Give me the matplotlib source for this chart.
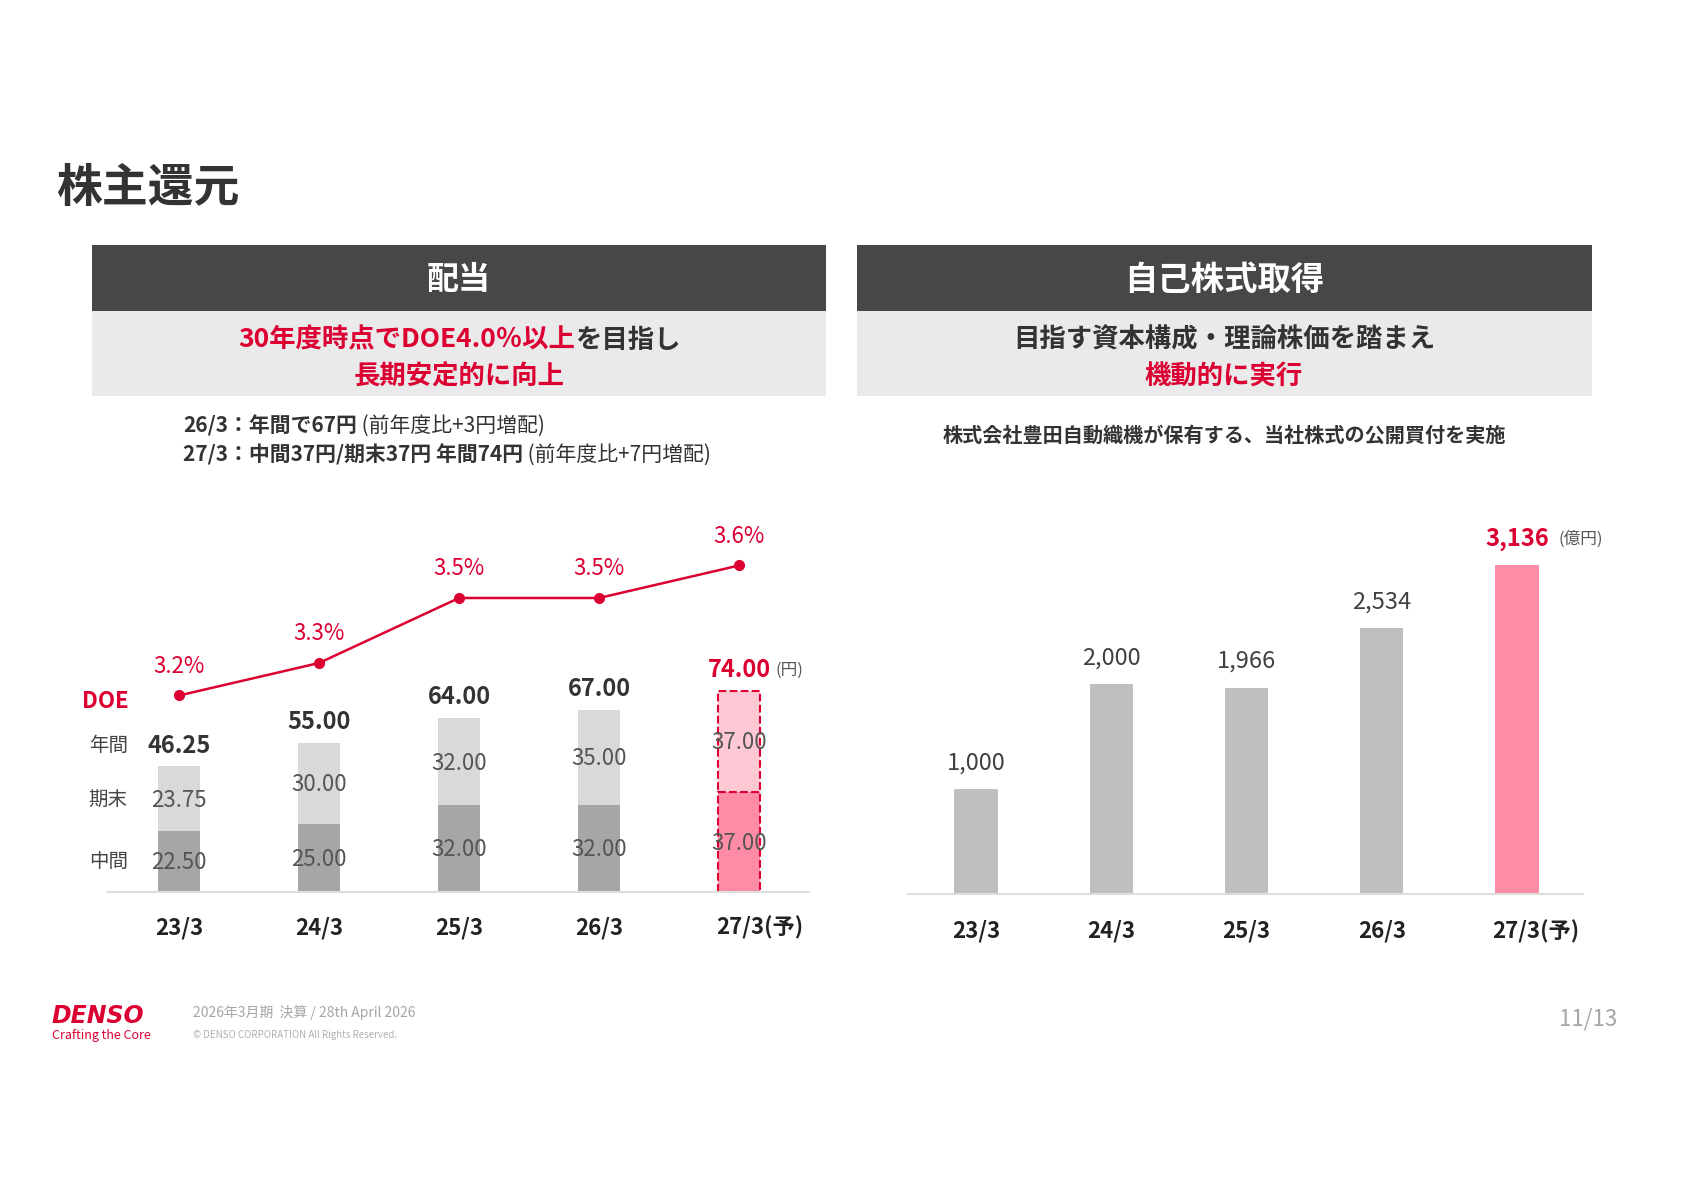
import matplotlib
matplotlib.use('Agg')
import matplotlib.pyplot as plt
from matplotlib.patches import Rectangle

plt.rcParams['font.family'] = ['Noto Sans CJK JP', 'DejaVu Sans']

W, H = 1683, 1190

years = ['23/3', '24/3', '25/3', '26/3', '27/3']
interim = [22.50, 25.00, 32.00, 32.00, 37.00]
year_end = [23.75, 30.00, 32.00, 35.00, 37.00]
annual = [46.25, 55.00, 64.00, 67.00, 74.00]
doe = [3.2, 3.3, 3.5, 3.5, 3.6]
buyback = [1000, 2000, 1966, 2534, 3136]

RED = '#DC0032'
DARK = '#333333'
PINK = '#FF8CA6'
LPINK = '#FFC8D5'

fig = plt.figure(figsize=(W / 100, H / 100), dpi=100)
renderer = fig.canvas.get_renderer()


def fx(x):
    return x / W


def fy(y):
    return 1 - y / H


def box(x0, y0, x1, y1, color):
    fig.add_artist(Rectangle((fx(x0), fy(y1)), (x1 - x0) / W, (y1 - y0) / H,
                             transform=fig.transFigure, color=color, lw=0))


def txt(x, y, s, **kw):
    kw.setdefault('va', 'center')
    return fig.text(fx(x), fy(y), s, **kw)


def runs(x, y, parts, size, ha='left'):
    # text made of pieces with different colour / weight
    arts = [fig.text(0, fy(y), s, fontsize=size, color=c, weight=w, va='center')
            for s, c, w in parts]
    widths = [a.get_window_extent(renderer).width for a in arts]
    start = x - sum(widths) / 2 if ha == 'center' else x
    for a, wd in zip(arts, widths):
        a.set_x(fx(start))
        start += wd


# ---- page header ----
txt(56, 189, '株主還元', fontsize=33, weight='bold', color=DARK)

box(92, 245, 826, 311, '#474747')
box(92, 311, 826, 396, '#EAEAEA')
box(857, 245, 1592, 311, '#474747')
box(857, 311, 1592, 396, '#EAEAEA')

txt(459, 280, '配当', fontsize=23, weight='bold', color='white', ha='center')
txt(1224, 280, '自己株式取得', fontsize=24, weight='bold', color='white', ha='center')

runs(459, 340, [('30年度時点でDOE4.0％以上', RED, 'bold'), ('を目指し', DARK, 'bold')],
     19, ha='center')
txt(459, 377, '長期安定的に向上', fontsize=19, weight='bold', color=RED, ha='center')
txt(1224, 340, '目指す資本構成・理論株価を踏まえ', fontsize=19, weight='bold',
    color=DARK, ha='center')
txt(1224, 377, '機動的に実行', fontsize=19, weight='bold', color=RED, ha='center')

runs(183, 426, [('26/3：年間で67円', DARK, 'bold'), (' (前年度比+3円増配)', DARK, 'normal')], 15)
runs(183, 455, [('27/3：中間37円/期末37円 年間74円', DARK, 'bold'),
                (' (前年度比+7円増配)', DARK, 'normal')], 15)
txt(1224, 435, '株式会社豊田自動織機が保有する、当社株式の公開買付を実施',
    fontsize=14.5, weight='bold', color=DARK, ha='center')

# ---- left chart: dividends ----
xs = list(range(len(years)))
ax = fig.add_axes([fx(107), fy(892), (809 - 107) / W, (892 - 480) / H])
ax.set_xlim(-72 / 140, 4 + 70 / 140)
ax.set_ylim(0, 412 / 2.715)
bw = 0.307
ax.bar(xs[:4], interim[:4], width=bw, color='#A6A6A6', lw=0)
ax.bar(xs[:4], year_end[:4], width=bw, bottom=interim[:4], color='#D9D9D9', lw=0)
ax.bar(xs[4], interim[4], width=bw, color=PINK, edgecolor=RED, ls='--', lw=1.5)
ax.bar(xs[4], year_end[4], width=bw, bottom=interim[4], color=LPINK, edgecolor=RED,
       ls='--', lw=1.5)

for sp in ['top', 'left', 'right']:
    ax.spines[sp].set_visible(False)
ax.spines['bottom'].set_color('#DDDDDD')
ax.spines['bottom'].set_linewidth(1.5)
ax.set_xticks([])
ax.set_yticks([])

for i in xs:
    c = RED if i == 4 else DARK
    ax.annotate(f'{annual[i]:.2f}', (i, annual[i]), xytext=(0, 15), textcoords='offset points',
                ha='center', va='center', fontsize=17, weight='bold', color=c)
    ax.annotate(f'{interim[i]:.2f}', (i, interim[i] / 2), xytext=(0, -1),
                textcoords='offset points', ha='center', va='center',
                fontsize=16, color='#555555')
    ax.annotate(f'{year_end[i]:.2f}', (i, interim[i] + year_end[i] / 2), xytext=(0, -1),
                textcoords='offset points', ha='center',
                va='center', fontsize=16, color='#555555')
    lab = years[i] + ('(予)' if i == 4 else '')
    ax.annotate(lab, (i + (0.15 if i == 4 else 0), 0), xytext=(0, -26),
                textcoords='offset points', ha='center', va='center', fontsize=16,
                weight='bold', color='#222222', annotation_clip=False)

ax.annotate('(円)', (4, annual[4]), xytext=(26, 15), textcoords='offset points',
            ha='left', va='center', fontsize=12, color='#555555')

ax.annotate('年間', (0, annual[0]), xytext=(-51, 15), textcoords='offset points',
            ha='center', va='center', fontsize=14, color='#444444', annotation_clip=False)
ax.annotate('期末', (0, interim[0] + year_end[0] / 2), xytext=(-51, -1),
            textcoords='offset points', ha='center', va='center', fontsize=14,
            color='#444444', annotation_clip=False)
ax.annotate('中間', (0, interim[0] / 2), xytext=(-51, 0), textcoords='offset points',
            ha='center', va='center', fontsize=14, color='#444444', annotation_clip=False)

ax2 = ax.twinx()
lo = 3.2 - 196.5 / 325
ax2.set_ylim(lo, lo + 412 / 325)
ax2.set_axis_off()
ax2.plot(xs, doe, color=RED, lw=1.8, marker='o', ms=7)
for i in xs:
    ax2.annotate(f'{doe[i]:.1f}%', (i, doe[i]), xytext=(0, 21), textcoords='offset points',
                 ha='center', va='center', fontsize=16, color=RED)
ax2.annotate('DOE', (0, doe[0]), xytext=(-53, -4), textcoords='offset points',
             ha='center', va='center', fontsize=16, weight='bold', color=RED,
             annotation_clip=False)

# ---- right chart: share buyback ----
ax3 = fig.add_axes([fx(908), fy(894), (1583 - 908) / W, (894 - 480) / H])
ax3.set_xlim(-68 / 135.25, 4 + 66 / 135.25)
ax3.set_ylim(0, 414 / 0.1048)
cols = ['#BFBFBF'] * 4 + [PINK]
ax3.bar(xs, buyback, width=0.318, color=cols, lw=0)
for sp in ['top', 'left', 'right']:
    ax3.spines[sp].set_visible(False)
ax3.spines['bottom'].set_color('#DDDDDD')
ax3.spines['bottom'].set_linewidth(1.5)
ax3.set_xticks([])
ax3.set_yticks([])
for i in xs:
    red = i == 4
    ax3.annotate(f'{buyback[i]:,}', (i, buyback[i]), xytext=(0, 19), textcoords='offset points',
                 ha='center', va='center', fontsize=17, color=RED if red else '#404040',
                 weight='bold' if red else 'normal')
    lab = years[i] + ('(予)' if red else '')
    ax3.annotate(lab, (i + (0.14 if red else 0), 0), xytext=(0, -27),
                 textcoords='offset points', ha='center', va='center', fontsize=16,
                 weight='bold', color='#222222', annotation_clip=False)
ax3.annotate('(億円)', (4, buyback[4]), xytext=(30, 19), textcoords='offset points',
             ha='left', va='center', fontsize=12, color='#555555', annotation_clip=False)

# ---- footer ----
txt(52, 1016, 'DENSO', fontsize=17, weight='bold', style='italic', color=RED,
    family='DejaVu Sans')
txt(52, 1036, 'Crafting the Core', fontsize=9, color=RED)
txt(193, 1013, '2026年3月期  決算 / 28th April 2026', fontsize=10, color='#A6A6A6')
txt(193, 1035, '© DENSO CORPORATION All Rights Reserved.', fontsize=7, color='#B0B0B0')
txt(1588, 1019, '11/13', fontsize=16, color='#A6A6A6', ha='center')

fig.savefig('out.png', dpi=100)
